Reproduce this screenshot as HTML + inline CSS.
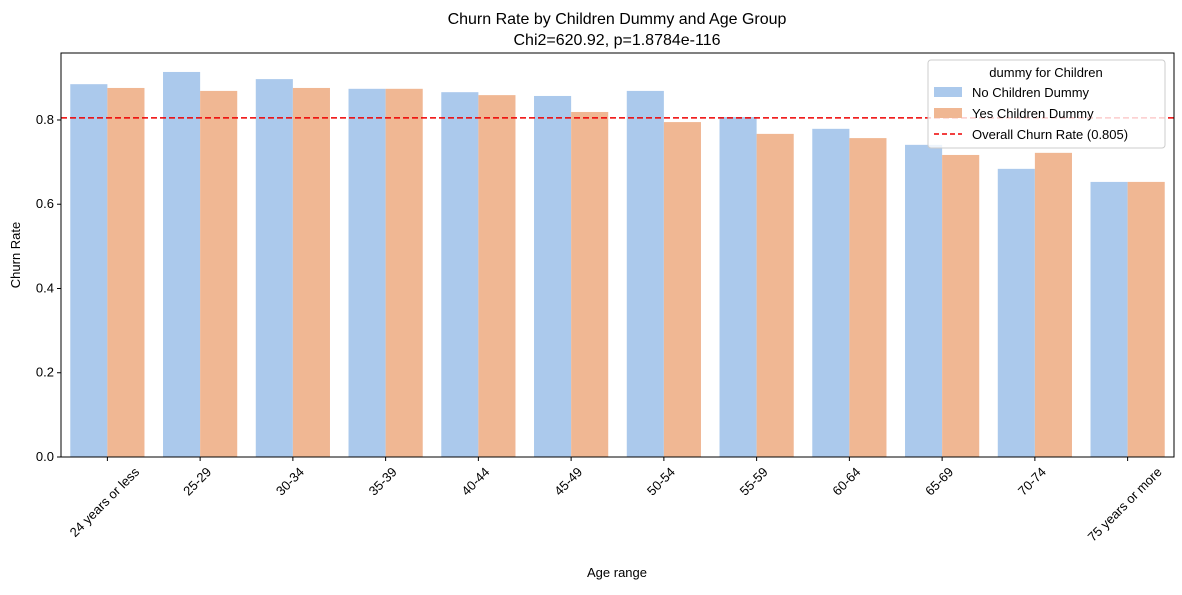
<!DOCTYPE html>
<html><head><meta charset="utf-8"><style>
body{margin:0;background:#fff;font-family:"Liberation Sans","DejaVu Sans",sans-serif;}
svg text{font-family:"Liberation Sans","DejaVu Sans",sans-serif;fill:#000;}
</style></head><body>
<svg id="chart" width="1182" height="590" xmlns="http://www.w3.org/2000/svg">
<text x="617" y="24" font-size="16" text-anchor="middle">Churn Rate by Children Dummy and Age Group</text>
<text x="617" y="45" font-size="16" text-anchor="middle">Chi2=620.92, p=1.8784e-116</text>
<g id="bars"></g>
<g id="axes"></g>
<text transform="translate(20,255) rotate(-90)" font-size="13" text-anchor="middle">Churn Rate</text>
<text x="617" y="577" font-size="13" text-anchor="middle">Age range</text>
<g>
<rect x="928" y="60" width="237" height="88" rx="3" fill="#fff" fill-opacity="0.8" stroke="#ccc"/>
<text x="1046" y="77" font-size="13" text-anchor="middle">dummy for Children</text>
<rect x="934" y="87" width="28" height="10" fill="#abc9ec"/>
<text x="972" y="97" font-size="13">No Children Dummy</text>
<rect x="934" y="108" width="28" height="10" fill="#f0b793"/>
<text x="972" y="118" font-size="13">Yes Children Dummy</text>
<line x1="934" y1="134" x2="962" y2="134" stroke="#e00" stroke-width="1.5" stroke-dasharray="5,3"/>
<text x="972" y="139" font-size="13">Overall Churn Rate (0.805)</text>
</g>
</svg>
<script>
const categories=["24 years or less","25-29","30-34","35-39","40-44","45-49","50-54","55-59","60-64","65-69","70-74","75 years or more"];
const noChildren=[0.885,0.914,0.897,0.874,0.866,0.857,0.869,0.807,0.779,0.741,0.684,0.653];
const yesChildren=[0.876,0.869,0.876,0.874,0.859,0.819,0.795,0.767,0.757,0.717,0.722,0.653];
const overallRate=0.805;
const yTicks=[0,0.2,0.4,0.6,0.8];
const NS="http://www.w3.org/2000/svg";
const L=61,R=1174,T=53,B=457,yMax=0.959;
const y=v=>B-(v/yMax)*(B-T);
const step=(R-L)/categories.length;
const xc=i=>L+step*(i+0.5);
const bw=step*0.4;
const bars=document.getElementById('bars'),axes=document.getElementById('axes');
function mk(tag,attrs,parent){const e=document.createElementNS(NS,tag);for(const k in attrs)e.setAttribute(k,attrs[k]);parent.appendChild(e);return e;}
categories.forEach((c,i)=>{
 const a=mk('rect',{x:xc(i)-bw,y:y(noChildren[i]),width:bw,height:B-y(noChildren[i]),fill:'#abc9ec'},bars);
 
 
 const b=mk('rect',{x:xc(i),y:y(yesChildren[i]),width:bw,height:B-y(yesChildren[i]),fill:'#f0b793'},bars);
 
 
 mk('line',{x1:xc(i),x2:xc(i),y1:B,y2:B+4,stroke:'#000'},axes);
 const t=mk('text',{'font-size':13,'text-anchor':'middle',dy:'0.35em'},axes);
 t.textContent=c;
 
 
 const len=t.getComputedTextLength();
 const cy=B+7+(len*0.7071+13*0.7071)/2;
 t.setAttribute('transform',`translate(${xc(i)-3},${cy+1}) rotate(-45)`);
});
yTicks.forEach(v=>{
 mk('line',{x1:L-4,x2:L,y1:y(v),y2:y(v),stroke:'#000'},axes);
 const t=mk('text',{x:L-7,y:y(v)+4,'font-size':13,'text-anchor':'end'},axes);
 t.textContent=v.toFixed(1);
 
 
});
const ol=mk('line',{x1:L,x2:R,y1:y(overallRate),y2:y(overallRate),stroke:'#e00','stroke-width':1.5,'stroke-dasharray':'6,3'},axes);


const fr=mk('rect',{x:L,y:T,width:R-L,height:B-T,fill:'none',stroke:'#000','stroke-width':1},axes);


</script>
</body></html>
